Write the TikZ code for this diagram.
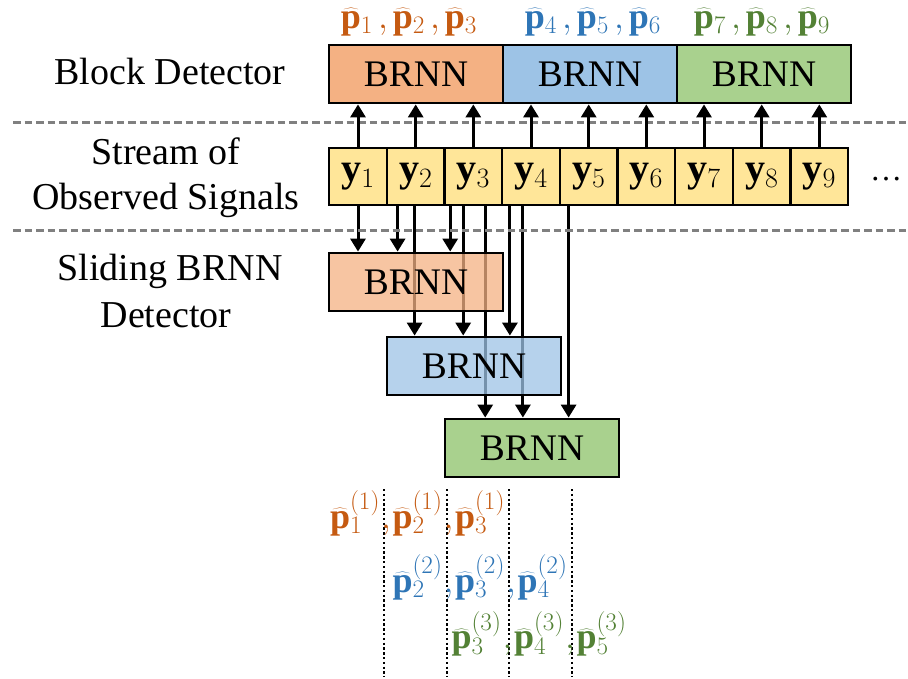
\RequirePackage{fix-cm}
\documentclass[tikz,border=0pt]{standalone}
\usepackage{fontspec}
\setmainfont{Liberation Serif}
\usetikzlibrary{arrows.meta,backgrounds}

\definecolor{ordk}{RGB}{197,90,17}
\definecolor{bldk}{RGB}{46,117,182}
\definecolor{grdk}{RGB}{83,129,53}
\definecolor{orfill}{RGB}{244,177,131}
\definecolor{blfill}{RGB}{157,195,230}
\definecolor{grfill}{RGB}{169,209,142}
\definecolor{ylw}{RGB}{255,230,153}
\definecolor{sepgray}{RGB}{128,128,128}

\newcommand{\phat}[1]{\makebox[34pt]{$\widehat{\mathbf{p}}_{#1}$}}
\newcommand{\phatk}[2]{\makebox[50pt]{$\widehat{\mathbf{p}}_{#1}^{(#2)}$}}
\newcommand{\tcm}{\makebox[18pt]{$,$}}
\newcommand{\bcm}{\makebox[12.5pt][l]{\hspace{1pt}$,$}}

\tikzset{
  lbl/.style={font=\fontsize{38}{46}\selectfont, inner sep=0pt, anchor=base},
  blk/.style={draw, line width=2.8pt, minimum width=174pt, minimum height=58pt,
    inner sep=0pt, font=\fontsize{37.5}{45}\selectfont},
  sld/.style={blk, fill opacity=0.75, draw opacity=1, text opacity=1},
  cell/.style={draw, line width=2.5pt, fill=ylw, minimum width=57.7pt,
    minimum height=57pt, inner sep=0pt, font=\fontsize{40}{44}\selectfont},
  arr/.style={line width=3pt, -{Triangle[length=13pt,width=15pt]}},
  sep/.style={draw=sepgray, line width=3pt, dash pattern=on 7.5pt off 4pt},
  dots/.style={line width=2.4pt, dash pattern=on 2.4pt off 2.4pt},
  est/.style={font=\fontsize{36}{40}\selectfont, inner sep=0pt}
}

\begin{document}
\begin{tikzpicture}[x=1pt,y=-1pt]
  \useasboundingbox (0,0) rectangle (908,679);

  % row titles
  \node[lbl] (lblk) at (170,85) {Block Detector};
  \node[lbl] (lstr1) at (166,165) {Stream of};
  \node[lbl] (lstr2) at (166,210) {Observed Signals};
  \node[lbl] (lsld1) at (170,280) {Sliding BRNN};
  \node[lbl] (lsld2) at (166,327) {Detector};

  \draw[sep] (13,122.5) -- (908,122.5);
  \draw[sep] (13,231) -- (908,231);

  % block detector
  \node[blk,fill=orfill] (blk1) at (416,74) {BRNN};
  \node[blk,fill=blfill] (blk2) at (590,74) {BRNN};
  \node[blk,fill=grfill] (blk3) at (764,74) {BRNN};
  \node[est,text=ordk] (pb1) at (409,22) {\phat1\tcm\phat2\tcm\phat3};
  \node[est,text=bldk] (pb2) at (593,22) {\phat4\tcm\phat5\tcm\phat6};
  \node[est,text=grdk] (pb3) at (762,22) {\phat7\tcm\phat8\tcm\phat9};

  % observed signals
  \node[cell] (y1) at (358,176.5) {$\mathbf{y}_1$};
  \node[cell] (y2) at (415.7,176.5) {$\mathbf{y}_2$};
  \node[cell] (y3) at (473.3,176.5) {$\mathbf{y}_3$};
  \node[cell] (y4) at (531,176.5) {$\mathbf{y}_4$};
  \node[cell] (y5) at (588.7,176.5) {$\mathbf{y}_5$};
  \node[cell] (y6) at (646.3,176.5) {$\mathbf{y}_6$};
  \node[cell] (y7) at (704,176.5) {$\mathbf{y}_7$};
  \node[cell] (y8) at (761.7,176.5) {$\mathbf{y}_8$};
  \node[cell] (y9) at (819.3,176.5) {$\mathbf{y}_9$};
  \node[lbl,font=\fontsize{32}{38}\selectfont] (more) at (886,181) {…};

  \draw[arr] (y1.north) -- (y1.north |- blk1.south);
  \draw[arr] (y2.north) -- (y2.north |- blk1.south);
  \draw[arr] (y3.north) -- (y3.north |- blk1.south);
  \draw[arr] (y4.north) -- (y4.north |- blk2.south);
  \draw[arr] (y5.north) -- (y5.north |- blk2.south);
  \draw[arr] (y6.north) -- (y6.north |- blk2.south);
  \draw[arr] (y7.north) -- (y7.north |- blk3.south);
  \draw[arr] (y8.north) -- (y8.north |- blk3.south);
  \draw[arr] (y9.north) -- (y9.north |- blk3.south);

  % sliding detector
  \node[sld,fill=orfill] (sl1) at (416,282) {BRNN};
  \node[sld,fill=blfill] (sl2) at (474,366) {BRNN};
  \node[sld,fill=grfill,fill opacity=1] (sl3) at (532,448) {BRNN};

  \begin{pgfonlayer}{background}
    \draw[arr] (y1.south) -- (y1.south |- sl1.north);
    \draw[arr] ([xshift=12pt]y2.south west) coordinate (d2) -- (d2 |- sl1.north);
    \draw[arr] ([xshift=29pt]y2.south west) coordinate (d3) -- (d3 |- sl2.north);
    \draw[arr] ([xshift=7pt]y3.south west) coordinate (d4) -- (d4 |- sl1.north);
    \draw[arr] ([xshift=20pt]y3.south west) coordinate (d5) -- (d5 |- sl2.north);
    \draw[arr] ([xshift=42pt]y3.south west) coordinate (d6) -- (d6 |- sl3.north);
    \draw[arr] ([xshift=9pt]y4.south west) coordinate (d7) -- (d7 |- sl2.north);
    \draw[arr] ([xshift=22pt]y4.south west) coordinate (d8) -- (d8 |- sl3.north);
    \draw[arr] ([xshift=10pt]y5.south west) coordinate (d9) -- (d9 |- sl3.north);
  \end{pgfonlayer}

  % sliding estimates
  \draw[dots] (384,489) -- (384,677);
  \draw[dots] (447,489) -- (447,677);
  \draw[dots] (509,489) -- (509,677);
  \draw[dots] (572,489) -- (572,677);
  \node[est,text=ordk] (ps1) at (417.5,513.5) {\phatk11\bcm\phatk21\bcm\phatk31};
  \node[est,text=bldk] (ps2) at (480,577.5) {\phatk22\bcm\phatk32\bcm\phatk42};
  \node[est,text=grdk] (ps3) at (539,634) {\phatk33\bcm\phatk43\bcm\phatk53};
\end{tikzpicture}
\end{document}
